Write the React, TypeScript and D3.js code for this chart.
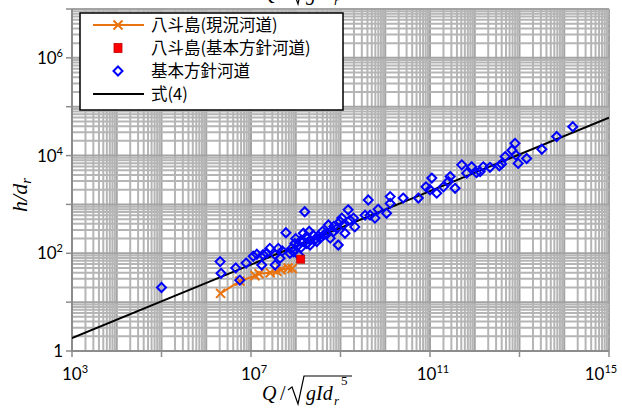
import React from "react";
import * as d3 from "d3";

// Values, stored as log10 exponents (Q* = 10^q, h/dr = 10^h)
const blueQexp = [
  5.0, 6.31, 6.33, 6.66, 6.75, 6.89, 7.05, 7.13, 7.24, 7.27, 7.42, 7.54, 7.61, 7.65, 7.54,
  7.78, 7.87, 7.91, 7.95, 7.98, 8.06, 8.06, 8.17, 8.17, 8.2, 8.24, 8.32, 8.32, 8.39, 8.47,
  8.54, 8.62, 8.73, 8.77, 8.84, 8.92, 8.95, 8.99, 9.03, 9.06, 9.1, 9.17, 9.21, 9.29, 9.32,
  9.55, 9.62, 9.66, 9.77, 9.84, 10.03, 10.11, 10.11, 10.4, 10.74, 10.91, 11.0, 11.04, 11.15,
  11.3, 11.41, 11.45, 11.56, 11.71, 11.82, 11.93, 12.04, 12.12, 12.19, 12.34, 12.55, 12.6,
  12.68, 12.83, 12.9, 12.92, 12.97, 13.16, 13.5, 13.83, 14.19,
  7.35, 7.7, 8.0, 8.1, 8.3, 8.45, 8.6, 8.7, 8.85, 8.12, 8.5, 8.25,
];
const blueHexp = [
  1.3, 1.83, 1.59, 1.7, 1.45, 1.8, 1.94, 1.98, 1.76, 1.97, 2.1, 1.97, 2.1, 1.9, 1.76,
  2.42, 2.0, 2.1, 2.03, 2.2, 2.17, 1.97, 2.24, 2.41, 2.85, 2.34, 2.27, 2.17, 2.37, 2.24,
  2.31, 2.37, 2.58, 2.31, 2.44, 2.51, 2.17, 2.65, 2.72, 2.58, 2.41, 2.89, 2.68, 2.72, 2.54,
  2.78, 3.09, 2.78, 2.72, 2.9, 2.82, 3.16, 3.02, 3.13, 3.13, 3.36, 3.3, 3.54, 3.23,
  3.36, 3.47, 3.57, 3.33, 3.81, 3.64, 3.77, 3.65, 3.67, 3.77, 3.76, 3.79, 3.83,
  3.98, 4.11, 4.25, 4.01, 3.84, 3.94, 4.13, 4.39, 4.59,
  2.0, 2.05, 2.3, 2.25, 2.45, 2.3, 2.45, 2.4, 2.55, 2.12, 2.35, 2.2,
];
const orangeQexp = [6.32, 6.75, 7.09, 7.18, 7.43, 7.58, 7.67, 7.83, 7.92];
const orangeHexp = [1.18, 1.43, 1.54, 1.58, 1.6, 1.63, 1.66, 1.7, 1.69];
const redQexp = [8.11];
const redHexp = [1.88];
const formulaCoef = 0.137;
const formulaExp = 0.376;

const xTickExps = [3, 7, 11, 15];
const yTickExps = [0, 2, 4, 6];
const legendLabels = ["八斗島(現況河道)", "八斗島(基本方針河道)", "基本方針河道", "式(4)"];

const X0 = 72, X1 = 609, Y0 = 351, Y1 = 9;

export default function App() {
  const x = d3.scaleLog().domain([1e3, 1e15]).range([X0, X1]);
  const y = d3.scaleLog().domain([1, 1e7]).range([Y0, Y1]);

  const blue = blueQexp.map((q, i) => [Math.pow(10, q), Math.pow(10, blueHexp[i])]);
  const orange = orangeQexp.map((q, i) => [Math.pow(10, q), Math.pow(10, orangeHexp[i])]);
  const red = redQexp.map((q, i) => [Math.pow(10, q), Math.pow(10, redHexp[i])]);

  const gridX: { v: number; major: boolean }[] = [];
  for (let n = 3; n < 15; n++) for (let k = 1; k <= 9; k++) gridX.push({ v: k * Math.pow(10, n), major: k === 1 });
  gridX.push({ v: 1e15, major: true });
  const gridY: { v: number; major: boolean }[] = [];
  for (let n = 0; n < 7; n++) for (let k = 1; k <= 9; k++) gridY.push({ v: k * Math.pow(10, n), major: k === 1 });
  gridY.push({ v: 1e7, major: true });

  const line = d3.line<number[]>().x((d) => x(d[0])).y((d) => y(d[1]));
  const fx = [1e3, 1e15].map((q) => [q, formulaCoef * Math.pow(q, formulaExp)]);

  const orangeC = "#e8730f";
  const blueC = "#0000ff";
  const tickFont = "Lato, 'Open Sans', sans-serif";
  const serif = "'Liberation Serif', 'DejaVu Serif', serif";

  const diamond = (cx: number, cy: number, key: any) => (
    <path key={key} d={`M${cx},${cy - 4.5}L${cx + 4.5},${cy}L${cx},${cy + 4.5}L${cx - 4.5},${cy}Z`} fill="none" stroke={blueC} strokeWidth={2} />
  );
  const cross = (cx: number, cy: number, key: any) => (
    <path key={key} d={`M${cx - 4.5},${cy - 4.5}L${cx + 4.5},${cy + 4.5}M${cx - 4.5},${cy + 4.5}L${cx + 4.5},${cy - 4.5}`} stroke={orangeC} strokeWidth={2} />
  );

  const title = (ty: number) => (
    <g transform={`translate(0,${ty})`} fontFamily={serif} fontStyle="italic" fontSize={20}>
      <text x={262} y={400}>Q</text>
      <text x={280} y={400} fontStyle="normal">/</text>
      <path d="M288,390 L292,387 L298,404 L304,376 L352,376" fill="none" stroke="#000" strokeWidth={1.2} />
      <text x={306} y={400}>gId</text>
      <text x={334} y={405} fontSize={13}>r</text>
      <text x={341} y={385} fontSize={13} fontStyle="normal">5</text>
    </g>
  );

  const legY = [25, 48, 71, 94];

  return (
    <svg width={622} height={408} style={{ position: "absolute", left: 0, top: 0, background: "#fff" }}>
      <defs>
        <clipPath id="plot">
          <rect x={X0} y={Y1} width={X1 - X0} height={Y0 - Y1} />
        </clipPath>
      </defs>
      <rect x={0} y={0} width={622} height={408} fill="#fff" />
      {/* grid */}
      <g>
        {gridX.map((g, i) => (
          <line key={"gx" + i} x1={x(g.v)} x2={x(g.v)} y1={Y1} y2={Y0} stroke={g.major ? "#a3a3a3" : "#b5b5b5"} strokeWidth={2} />
        ))}
        {gridY.map((g, i) => (
          <line key={"gy" + i} x1={X0} x2={X1} y1={y(g.v)} y2={y(g.v)} stroke={g.major ? "#a3a3a3" : "#b5b5b5"} strokeWidth={2} />
        ))}
      </g>
      {/* axes */}
      <line x1={X0} x2={X0} y1={Y1} y2={Y0 + 1} stroke="#8c8c8c" strokeWidth={2} />
      <line x1={X0} x2={X1} y1={Y0} y2={Y0} stroke="#8c8c8c" strokeWidth={2} />
      {d3.range(0, 8).map((e) => (
        <line key={"yt" + e} x1={X0 - 6} x2={X0} y1={y(Math.pow(10, e))} y2={y(Math.pow(10, e))} stroke="#8c8c8c" strokeWidth={1.5} />
      ))}
      {d3.range(3, 16, 2).map((e) => (
        <line key={"xt" + e} x1={x(Math.pow(10, e))} x2={x(Math.pow(10, e))} y1={Y0} y2={Y0 + 6} stroke="#8c8c8c" strokeWidth={1.5} />
      ))}
      {/* tick labels */}
      {yTickExps.map((e) => (
        <text key={"yl" + e} x={63} y={y(Math.pow(10, e)) + 6} textAnchor="end" fontFamily={tickFont} fontSize={17} fill="#000">
          {e === 0 ? "1" : (<>10<tspan fontSize={11} dy={-7}>{e}</tspan></>)}
        </text>
      ))}
      {xTickExps.map((e) => (
        <text key={"xl" + e} x={x(Math.pow(10, e)) + (e === 15 ? -8 : 3)} y={380} textAnchor="middle" fontFamily={tickFont} fontSize={17} fill="#000">
          10<tspan fontSize={11} dy={-7}>{e}</tspan>
        </text>
      ))}
      {/* data */}
      <g clipPath="url(#plot)">
        <path d={line(fx) || ""} fill="none" stroke="#000" strokeWidth={2} />
        <path d={line(orange) || ""} fill="none" stroke={orangeC} strokeWidth={2} />
        {orange.map((d, i) => cross(x(d[0]), y(d[1]), "o" + i))}
        {blue.map((d, i) => diamond(x(d[0]), y(d[1]), "b" + i))}
        {red.map((d, i) => (
          <rect key={"r" + i} x={x(d[0]) - 4} y={y(d[1]) - 4} width={8} height={8} fill="#ff0000" stroke="#c00000" strokeWidth={0.8} />
        ))}
      </g>
      {/* axis titles */}
      {title(0)}
      {title(-400)}
      <text transform="translate(27,195) rotate(-90)" textAnchor="middle" fontFamily={serif} fontStyle="italic" fontSize={22}>
        h/d<tspan fontSize={15} dy={4}>r</tspan>
      </text>
      {/* legend */}
      <rect x={80} y={13} width={263} height={97} fill="#fff" stroke="#000" strokeWidth={1.5} />
      <line x1={93} x2={144} y1={legY[0]} y2={legY[0]} stroke={orangeC} strokeWidth={2} />
      {cross(118, legY[0], "lc")}
      <rect x={114} y={legY[1] - 4.5} width={8} height={9} fill="#ff0000" stroke="#c00000" strokeWidth={0.8} />
      {diamond(118, legY[2], "ld")}
      <line x1={93} x2={144} y1={legY[3]} y2={legY[3]} stroke="#000" strokeWidth={2} />
      {legendLabels.map((t, i) => (
        <text key={"lt" + i} x={151} y={legY[i] + 6} fontFamily="'Noto Sans CJK JP', sans-serif" fontSize={16.5} fill="#000">
          {t}
        </text>
      ))}
    </svg>
  );
}
